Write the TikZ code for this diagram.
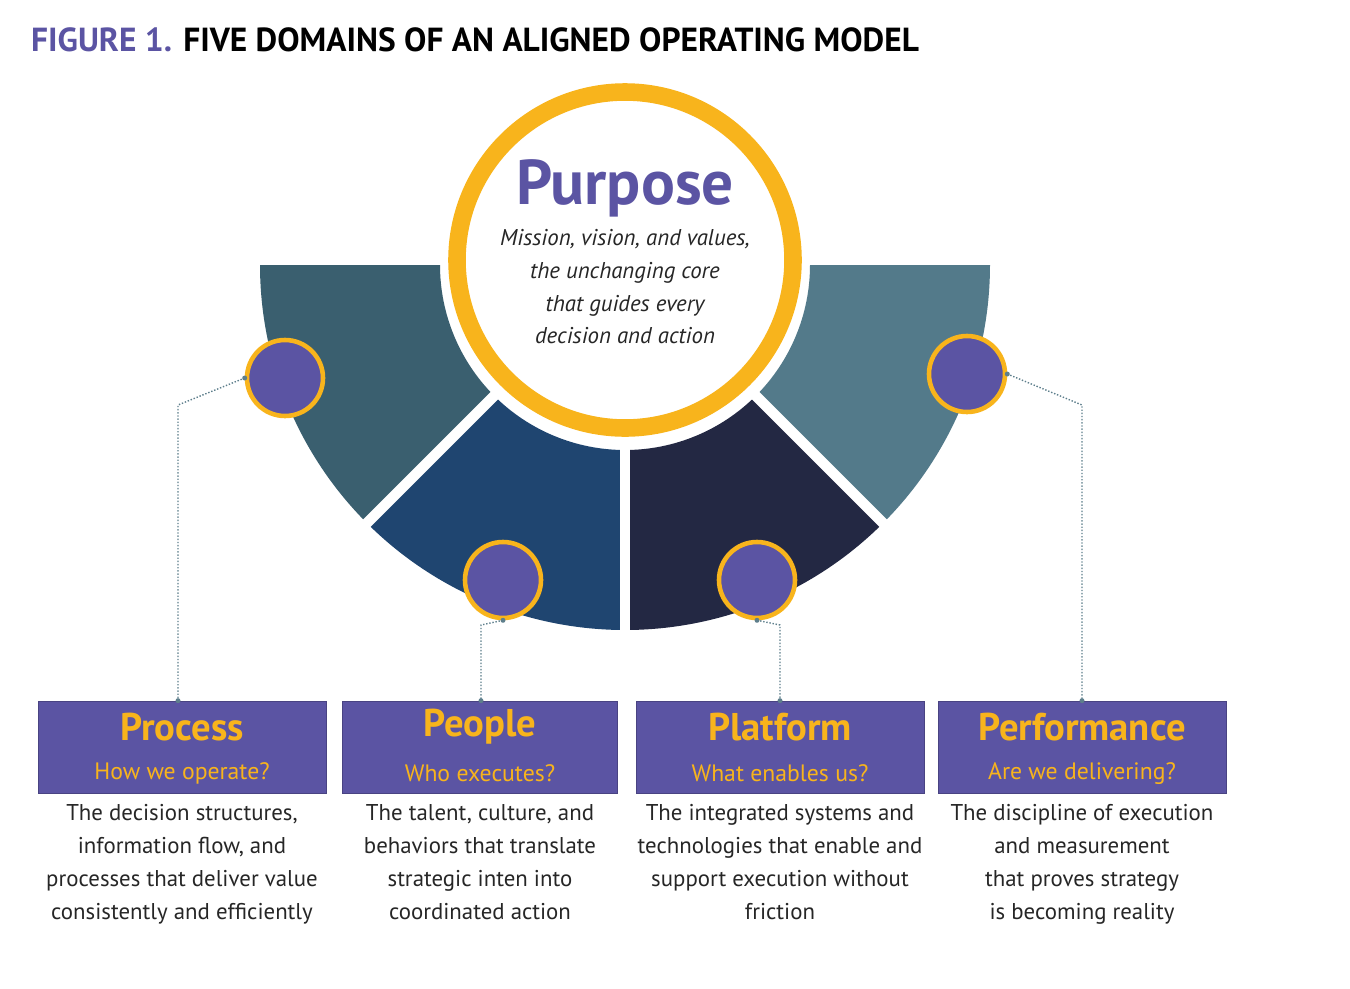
\documentclass[tikz,border=0pt]{standalone}
\usepackage{fontspec}
\setmainfont{PT Sans}
\usetikzlibrary{positioning}
\definecolor{purp}{HTML}{5B54A3}
\definecolor{gold}{HTML}{F8B41C}
\definecolor{segA}{HTML}{3A5F6F}
\definecolor{segB}{HTML}{1F4570}
\definecolor{segC}{HTML}{232843}
\definecolor{segD}{HTML}{537A8A}
\definecolor{dotline}{HTML}{5E7F8C}
\tikzset{domainbox/.style={
    % The shape:
    rectangle, minimum width=288*0.02cm, minimum height=92*0.02cm,
    fill=purp, draw=purp!80!black,
    },
    boxtitle/.style={font=\bfseries\fontsize{22}{24}\selectfont, text=gold},
    boxsub/.style={font=\fontsize{13.5}{15}\selectfont, text=gold},
    bodytext/.style={font=\fontsize{13}{18.7}\selectfont, align=center, text=black!85},
    dot/.style={circle, fill=purp, draw=gold, line width=2.6pt, minimum size=76*0.02cm, inner sep=0},
    leader/.style={dotline, densely dotted, line width=0.8pt},
}
\begin{document}
\begin{tikzpicture}[x=0.02cm,y=-0.02cm]
  \useasboundingbox (0,0) rectangle (1350,988);
  % title
  \node[anchor=west] (title) at (25,40) {\fontsize{19}{21}\selectfont\bfseries\textcolor{purp}{FIGURE 1.} FIVE DOMAINS OF AN ALIGNED OPERATING MODEL};
  % half ring segments
  \foreach \a/\c in {135/segA,90/segB,45/segC,0/segD}
    \fill[\c] (625,265) ++(\a:185) arc (\a:\a+45:185) -- ++(\a+45:180) arc (\a+45:\a:365) -- cycle;
  \foreach \a in {45,90,135}
    \draw[white, line width=6pt] (625,265) ++(\a:150) -- ++(\a:230);
  % purpose
  \node[circle, fill=white, draw=gold, line width=10pt, minimum size=336*0.02cm] (purpose) at (625,260) {};
  \node (ptitle) at (625,188) {\bfseries\fontsize{36}{40}\selectfont\textcolor{purp}{Purpose}};
  \node[bodytext, font=\itshape\fontsize{13}{18.7}\selectfont, below=0mm of ptitle] (ptext) {Mission, vision, and values,\\the unchanging core\\that guides every\\decision and action};
  % small circles
  \node[dot] (c1) at (285,378) {};
  \node[dot] (c2) at (503,580) {};
  \node[dot] (c3) at (757,580) {};
  \node[dot] (c4) at (967,374) {};
  % boxes
  \node[domainbox] (b1) at (182,747) {};
  \node[domainbox, minimum width=275*0.02cm] (b2) at (480,747) {};
  \node[domainbox] (b3) at (780,747) {};
  \node[domainbox] (b4) at (1082,747) {};
  \foreach \b/\t/\s in {b1/Process/How we operate?,b2/People/Who executes?,b3/Platform/What enables us?,b4/Performance/Are we delivering?}{
    \node[boxtitle] (\b t) at ([yshift=-26*0.02cm]\b.north) {\t};
    \node[boxsub] (\b s) at ([yshift=20*0.02cm]\b.south) {\s};
  }
  \node[bodytext, below=1mm of b1] (t1) {The decision structures,\\information flow, and\\processes that deliver value\\consistently and efficiently};
  \node[bodytext, below=1mm of b2] (t2) {The talent, culture, and\\behaviors that translate\\strategic inten into\\coordinated action};
  \node[bodytext, below=1mm of b3] (t3) {The integrated systems and\\technologies that enable and\\support execution without\\friction};
  \node[bodytext, below=1mm of b4] (t4) {The discipline of execution\\and measurement\\that proves strategy\\is becoming reality};
  % leaders
  \coordinate (k1) at (178,405); \coordinate (k2) at (481,625);
  \coordinate (k3) at (780,625); \coordinate (k4) at (1082,405);
  \draw[leader] (c1.west) -- (k1) -- (k1 |- b1.north);
  \draw[leader] (c2.south) -- (k2) -- (k2 |- b2.north);
  \draw[leader] (c3.south) -- (k3) -- (k3 |- b3.north);
  \draw[leader] (c4.east) -- (k4) -- (k4 |- b4.north);
  \foreach \p in {c1.west,c2.south,c3.south,c4.east}
    \fill[dotline] (\p) circle (2.5);
  \fill[dotline] (k1 |- b1.north) circle (2.5) (k2 |- b2.north) circle (2.5)
    (k3 |- b3.north) circle (2.5) (k4 |- b4.north) circle (2.5);
\end{tikzpicture}
\end{document}
